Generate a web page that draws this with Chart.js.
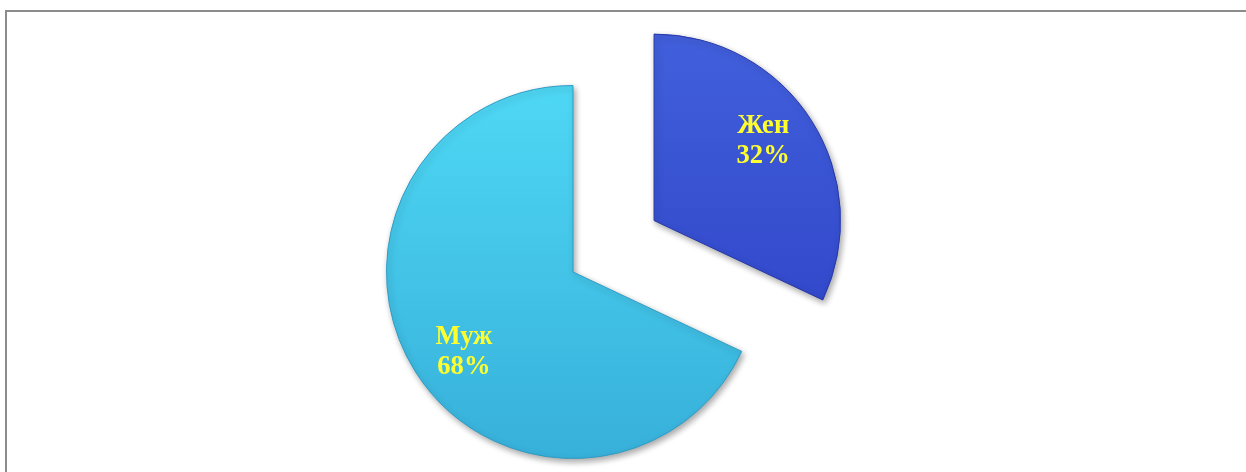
<!DOCTYPE html>
<html lang="ru">
<head>
<meta charset="utf-8">
<title>Жен / Муж</title>
<script src="https://cdn.jsdelivr.net/npm/chart.js@4"></script>
<style>
  html, body { margin: 0; padding: 0; background: #ffffff; overflow: hidden; }
  #frame {
    position: absolute; left: 5px; top: 10px; width: 1260px; height: 480px;
    border-top: 2px solid #8c8c8c; border-left: 2px solid #8c8c8c;
    box-sizing: border-box;
  }
  #wrap { position: absolute; left: 0; top: 0; width: 1246px; height: 472px; }
</style>
</head>
<body>
<div id="frame"></div>
<div id="wrap"><canvas id="chart" width="1246" height="472"></canvas></div>
<script>
// Gender split
const categories = ['Жен', 'Муж'];
const shares = [32, 68];

// Slice colours: top and bottom of the vertical gradient
const topColors = ['#4565e0', '#52def9'];
const bottomColors = ['#2c40c4', '#37b0da'];
const edgeColors = ['#2636a8', '#2f9cc4'];
// How far each slice is pulled out from the centre
const explodeDistances = [96, 0];

function sliceGradient(c) {
  const chart = c.chart;
  const area = chart.chartArea;
  if (!area) return topColors[c.dataIndex];
  const g = chart.ctx.createLinearGradient(0, area.top - 60, 0, area.bottom);
  g.addColorStop(0, topColors[c.dataIndex]);
  g.addColorStop(1, bottomColors[c.dataIndex]);
  return g;
}

// Pulls slices outward along their bisector and adds a soft shadow
const explodePlugin = {
  id: 'explodeSlices',
  afterUpdate(chart, args, opts) {
    const meta = chart.getDatasetMeta(0);
    meta.data.forEach((arc, i) => {
      arc.$explode = (opts.distances && opts.distances[i]) || 0;
      if (arc.$explodeWrapped) return;
      const baseDraw = arc.draw;
      arc.draw = function (ctx, area) {
        const mid = (this.startAngle + this.endAngle) / 2;
        ctx.save();
        ctx.translate(Math.cos(mid) * this.$explode, Math.sin(mid) * this.$explode);
        ctx.shadowColor = 'rgba(0,0,0,0.35)';
        ctx.shadowBlur = 6;
        ctx.shadowOffsetX = 2;
        ctx.shadowOffsetY = 3;
        baseDraw.call(this, ctx, area);
        ctx.restore();
      };
      arc.$explodeWrapped = true;
    });
  }
};

// Category name and percentage inside each slice
const sliceLabels = {
  id: 'sliceLabels',
  afterDatasetsDraw(chart, args, opts) {
    const ctx = chart.ctx;
    const meta = chart.getDatasetMeta(0);
    ctx.save();
    ctx.font = opts.font;
    ctx.fillStyle = opts.color;
    ctx.textAlign = 'center';
    ctx.textBaseline = 'middle';
    meta.data.forEach((arc, i) => {
      const p = arc.getProps(['x', 'y', 'startAngle', 'endAngle', 'outerRadius'], true);
      const mid = (p.startAngle + p.endAngle) / 2;
      const ex = arc.$explode || 0;
      // slice origin after pulling out
      const ox = p.x + Math.cos(mid) * ex;
      const oy = p.y + Math.sin(mid) * ex;
      const a = mid + opts.angleShift * Math.PI / 180;
      const d = p.outerRadius * opts.radial;
      const cx = ox + Math.cos(a) * d;
      const cy = oy + Math.sin(a) * d;
      const lines = [categories[i], shares[i] + '%'];
      lines.forEach((t, k) => {
        ctx.save();
        ctx.translate(cx, cy + (k - (lines.length - 1) / 2) * opts.lineHeight);
        ctx.scale(opts.stretchX, 1);
        ctx.fillText(t, 0, 0);
        ctx.restore();
      });
    });
    ctx.restore();
  }
};

new Chart(document.getElementById('chart'), {
  type: 'pie',
  data: {
    labels: categories,
    datasets: [{
      data: shares,
      backgroundColor: sliceGradient,
      borderColor: edgeColors,
      borderWidth: 1,
      clip: false
    }]
  },
  options: {
    responsive: false,
    animation: false,
    events: [],
    layout: { padding: { left: 386, right: 486, top: 85, bottom: 13 } },
    plugins: {
      legend: { display: false },
      tooltip: { enabled: false },
      explodeSlices: { distances: explodeDistances },
      sliceLabels: {
        font: 'bold 28px "Liberation Serif", "Times New Roman", serif',
        color: '#ffff2e',
        radial: 0.725,
        angleShift: -3.8,
        lineHeight: 30,
        stretchX: 0.95
      }
    }
  },
  plugins: [explodePlugin, sliceLabels]
});
</script>
</body>
</html>
